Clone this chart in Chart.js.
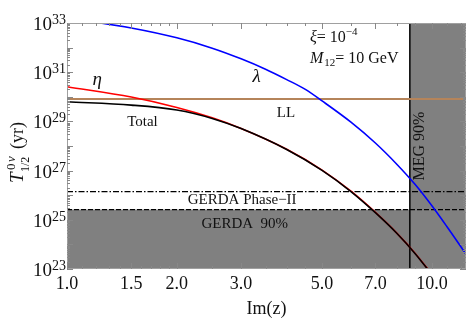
<!DOCTYPE html>
<html>
<head>
<meta charset="utf-8">
<script src="https://cdn.jsdelivr.net/npm/chart.js@4.4.0/dist/chart.umd.min.js"></script>
<style>
  html, body { margin: 0; padding: 0; background: #fff; }
  canvas { display: block; }
</style>
</head>
<body>
<canvas id="chart" width="468" height="319"></canvas>
<script>
// Data (Im(z) vs half-life in years)
const etaIm = [1.0, 1.5, 2.0, 2.5, 3.0, 4.0, 5.0, 6.0, 7.0, 8.0, 9.0, 10.0];
const etaT = [2.57e30, 9.8e29, 3.7e29, 1.41e29, 5.2e28, 7.4e27, 1.05e27, 1.45e26, 2.0e25, 2.95e24, 4.3e23, 6.0e22];

const totalIm = [1.0, 1.5, 2.0, 2.5, 3.0, 4.0, 5.0, 6.0, 7.0, 8.0, 9.0, 10.0];
const totalT = [6.3e29, 4.6e29, 2.9e29, 1.32e29, 5.1e28, 7.2e27, 1.02e27, 1.41e26, 1.95e25, 2.9e24, 4.2e23, 5.9e22];

const lambdaIm = [1.0, 1.5, 2.0, 2.5, 3.0, 3.5, 4.0, 4.5, 5.0, 6.0, 7.0, 8.0, 9.0, 10.0, 11.0, 12.4];
const lambdaT = [1.6e33, 6.3e32, 2.5e32, 9.5e31, 3.5e31, 1.32e31, 5.0e30, 2.0e30, 6.8e29, 9.3e28, 1.32e28, 1.86e27, 2.7e26, 3.7e25, 5.2e24, 4.0e23];

const LL_T = 8.1e29;
const GERDA2_T = 1.4e26;
const GERDA90_T = 2.6e25;
const MEG_IM = 8.7;

const X_MIN = 1, X_MAX = 12.4;
const Y_MIN = 1e23, Y_MAX = 1e33;
const xTicks = [1, 1.5, 2, 3, 5, 7, 10];
const xMinorTicks = [1.1, 1.2, 1.3, 1.4, 1.6, 1.7, 1.8, 1.9, 2.5, 3.5, 4, 4.5, 6, 8, 9, 11, 12];
const yLabelExps = [23, 25, 27, 29, 31, 33];

const SERIF = '"Liberation Serif", "DejaVu Serif", serif';

const pts = (xs, ys) => xs.map((x, i) => ({ x, y: ys[i] }));
const hline = v => [{ x: X_MIN, y: v }, { x: X_MAX, y: v }];

// text labels placed in data coordinates
const labels = [
  { text: 'η', x: 1.21, y: 4.8e30, font: 'italic 19px ' + SERIF },
  { text: 'λ', x: 3.31, y: 6.3e30, font: 'italic 19px ' + SERIF },
  { text: 'Total', x: 1.61, y: 9.5e28, font: '15px ' + SERIF },
  { text: 'LL', x: 3.98, y: 2.2e29, font: '15px ' + SERIF },
  { text: 'GERDA Phase\u2212II', x: 3.02, y: 6.3e25, font: '15px ' + SERIF },
  { text: 'GERDA  90%', x: 3.07, y: 6.8e24, font: '15px ' + SERIF }
];

const overlay = {
  id: 'overlay',
  afterDraw(chart) {
    const { ctx, chartArea: a, scales: { x, y } } = chart;
    ctx.save();

    // frame
    ctx.strokeStyle = '#a0a0a0';
    ctx.lineWidth = 1;
    ctx.strokeRect(a.left + 0.5, a.top + 0.5, a.right - a.left - 1, a.bottom - a.top - 1);

    // inward tick marks
    ctx.strokeStyle = '#888';
    ctx.beginPath();
    for (let e = 23; e < 33; e++) {
      for (let k = 1; k <= 9; k++) {
        const py = Math.round(y.getPixelForValue(k * Math.pow(10, e))) + 0.5;
        const len = k === 1 ? 6 : 3;
        ctx.moveTo(a.left, py); ctx.lineTo(a.left + len, py);
        ctx.moveTo(a.right, py); ctx.lineTo(a.right - len, py);
      }
    }
    xTicks.concat(xMinorTicks).forEach(v => {
      const px = Math.round(x.getPixelForValue(v)) + 0.5;
      const len = xTicks.includes(v) ? 6 : 3;
      ctx.moveTo(px, a.bottom); ctx.lineTo(px, a.bottom - len);
      ctx.moveTo(px, a.top); ctx.lineTo(px, a.top + len);
    });
    ctx.stroke();

    // y tick labels 10^n
    ctx.fillStyle = '#111';
    ctx.textBaseline = 'alphabetic';
    ctx.textAlign = 'right';
    yLabelExps.forEach(e => {
      const py = y.getPixelForValue(Math.pow(10, e));
      ctx.font = '14px ' + SERIF;
      const sup = String(e);
      const sw = ctx.measureText(sup).width;
      ctx.fillText(sup, a.left - 1, py + 1);
      ctx.font = '19px ' + SERIF;
      ctx.fillText('10', a.left - 1 - sw, py + 7);
    });

    // y axis title: T^{0ν}_{1/2} (yr)
    ctx.save();
    ctx.translate(23, 183);
    ctx.rotate(-Math.PI / 2);
    ctx.textAlign = 'left';
    ctx.font = 'italic 19px ' + SERIF;
    ctx.fillText('T', 0, 0);
    ctx.font = '13px ' + SERIF;
    ctx.fillText('0', 13, -8);
    ctx.font = 'italic 13px ' + SERIF;
    ctx.fillText('ν', 21, -8);
    ctx.font = '12px ' + SERIF;
    ctx.fillText('1/2', 11, 6);
    ctx.font = '18px ' + SERIF;
    ctx.fillText('(yr)', 34, 0);
    ctx.restore();

    // curve and limit labels
    ctx.textAlign = 'center';
    ctx.textBaseline = 'middle';
    labels.forEach(l => {
      ctx.font = l.font;
      ctx.fillText(l.text, x.getPixelForValue(l.x), y.getPixelForValue(l.y));
    });

    // parameter box
    ctx.textAlign = 'left';
    ctx.textBaseline = 'alphabetic';
    const px0 = x.getPixelForValue(4.63);
    const py1 = y.getPixelForValue(1.7e32);
    const py2 = y.getPixelForValue(2.3e31);
    ctx.font = 'italic 16px ' + SERIF;
    ctx.fillText('ξ', px0, py1);
    let w = ctx.measureText('ξ').width;
    ctx.font = '16px ' + SERIF;
    ctx.fillText('= 10', px0 + w, py1);
    w += ctx.measureText('= 10').width;
    ctx.font = '11px ' + SERIF;
    ctx.fillText('\u22124', px0 + w, py1 - 7);

    ctx.font = 'italic 16px ' + SERIF;
    ctx.fillText('M', px0, py2);
    w = ctx.measureText('M').width;
    ctx.font = '11px ' + SERIF;
    ctx.fillText('12', px0 + w + 1, py2 + 3);
    w += ctx.measureText('12').width + 1;
    ctx.font = '16px ' + SERIF;
    ctx.fillText('= 10 GeV', px0 + w, py2);

    // MEG label (vertical)
    ctx.save();
    ctx.translate(x.getPixelForValue(9.26), y.getPixelForValue(1e28));
    ctx.rotate(-Math.PI / 2);
    ctx.textAlign = 'center';
    ctx.textBaseline = 'middle';
    ctx.font = '16px ' + SERIF;
    ctx.fillText('MEG 90%', 0, 0);
    ctx.restore();

    ctx.restore();
  }
};

const GRAY = '#808080';

new Chart(document.getElementById('chart').getContext('2d'), {
  type: 'line',
  data: {
    datasets: [
      { data: pts(totalIm, totalT), borderColor: '#000', borderWidth: 1.6, cubicInterpolationMode: 'monotone', order: 0 },
      { data: pts(etaIm, etaT), borderColor: '#ff0000', borderWidth: 1.6, cubicInterpolationMode: 'monotone', order: 1 },
      { data: pts(lambdaIm, lambdaT), borderColor: '#0000ff', borderWidth: 1.6, cubicInterpolationMode: 'monotone', order: 1 },
      { data: hline(LL_T), borderColor: '#b5845a', borderWidth: 2, order: 2 },
      { data: hline(GERDA2_T), borderColor: '#000', borderWidth: 1.2, borderDash: [6, 2, 1.5, 2], order: 2 },
      { data: [{ x: MEG_IM, y: Y_MIN }, { x: MEG_IM, y: Y_MAX }], borderColor: '#000', borderWidth: 1.5, order: 2 },
      { data: hline(GERDA90_T), borderColor: '#000', borderWidth: 1.2, borderDash: [5, 2], fill: 'start', backgroundColor: GRAY, order: 5 },
      { data: [{ x: MEG_IM, y: Y_MAX }, { x: X_MAX, y: Y_MAX }], borderWidth: 0, borderColor: GRAY, fill: 'start', backgroundColor: GRAY, order: 6 }
    ]
  },
  options: {
    responsive: false,
    animation: false,
    devicePixelRatio: 1,
    layout: { padding: { left: 0, top: 23, right: 2, bottom: 0 } },
    elements: { point: { radius: 0 }, line: { tension: 0 } },
    plugins: { legend: { display: false }, tooltip: { enabled: false } },
    scales: {
      x: {
        type: 'logarithmic',
        min: X_MIN,
        max: X_MAX,
        afterBuildTicks: s => { s.ticks = xTicks.map(v => ({ value: v })); },
        afterFit: s => { s.height = 50; },
        grid: { display: false, drawTicks: false },
        border: { display: false },
        ticks: {
          autoSkip: false,
          maxRotation: 0,
          padding: 4,
          color: '#111',
          font: { family: SERIF, size: 18 },
          callback: v => Number(v).toFixed(1)
        },
        title: {
          display: true,
          text: 'Im(z)',
          color: '#111',
          font: { family: SERIF, size: 18 },
          padding: { top: 0, bottom: -1 }
        }
      },
      y: {
        type: 'logarithmic',
        min: Y_MIN,
        max: Y_MAX,
        afterBuildTicks: s => { s.ticks = yLabelExps.map(e => ({ value: Math.pow(10, e) })); },
        afterFit: s => { s.width = 67; },
        grid: { display: false, drawTicks: false },
        border: { display: false },
        ticks: { display: false }
      }
    }
  },
  plugins: [overlay]
});
</script>
</body>
</html>
